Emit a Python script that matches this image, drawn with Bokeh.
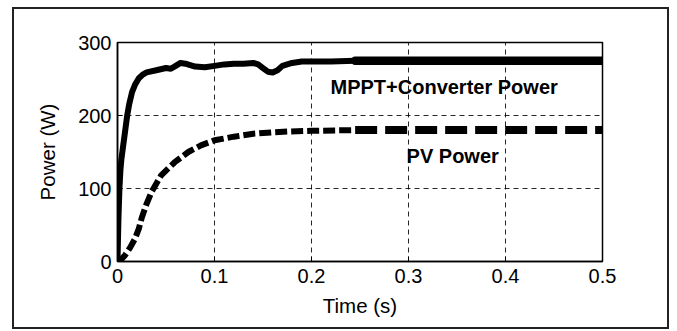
from bokeh.plotting import figure
from bokeh.models import FixedTicker, Range1d
from bokeh.layouts import column
from bokeh.core.properties import value
from bokeh.embed import file_html
from bokeh.resources import INLINE

# ---- data ----
mppt_t_early = [0, 0.001, 0.002, 0.003, 0.004, 0.006, 0.008, 0.010, 0.012, 0.015, 0.018,
                0.022, 0.026, 0.030, 0.040, 0.050, 0.055, 0.060, 0.065, 0.070, 0.080,
                0.090, 0.100, 0.110, 0.120, 0.130, 0.140, 0.145, 0.150, 0.155, 0.160,
                0.165, 0.170, 0.180, 0.190, 0.200, 0.220, 0.245]
mppt_p_early = [0, 60, 100, 125, 140, 160, 180, 200, 215, 232, 242,
                251, 256, 259, 262, 265, 264, 268, 272, 271, 267,
                266, 268, 270, 271, 271, 272, 270, 265, 260, 259,
                262, 268, 272, 274, 274, 274, 275]
mppt_t_late = [0.245, 0.300, 0.400, 0.500]
mppt_p_late = [275, 275, 275, 275]

pv_t_early = [0, 0.004, 0.008, 0.013, 0.018, 0.022, 0.025, 0.030, 0.035, 0.045, 0.059,
              0.073, 0.086, 0.100, 0.120, 0.140, 0.160, 0.175, 0.200, 0.245]
pv_p_early = [0, 3, 9, 19, 31, 45, 60, 79, 95, 118, 136,
              150, 159, 166, 171, 175, 177, 178, 179, 180]
pv_t_late = [0.245, 0.500]
pv_p_late = [180, 180]

x_ticks = [0, 0.1, 0.2, 0.3, 0.4, 0.5]
x_tick_labels = ["0", "0.1", "0.2", "0.3", "0.4", "0.5"]
y_ticks = [0, 100, 200, 300]
y_tick_labels = ["0", "100", "200", "300"]

labels_text = ["MPPT+Converter Power", "PV Power"]
labels_x = [0.2196, 0.298]
labels_y = [239, 145]

FONT = "Liberation Sans"

p = figure(width=653, height=318, output_backend="svg", toolbar_location=None,
           x_range=Range1d(0, 0.5), y_range=Range1d(0, 300),
           min_border_left=103, min_border_right=65,
           min_border_top=33, min_border_bottom=66)

p.background_fill_color = "white"
p.border_fill_color = "white"
p.outline_line_color = "black"
p.outline_line_width = 1.5

for ax in (p.xaxis[0], p.yaxis[0]):
    ax.axis_line_color = "black"
    ax.axis_line_width = 1.5
    ax.major_tick_in = 5
    ax.major_tick_out = 0
    ax.minor_tick_line_color = None
    ax.major_tick_line_color = "black"
    ax.major_label_text_font = FONT
    ax.major_label_text_font_size = "20px"
    ax.major_label_text_color = "black"
    ax.axis_label_text_font = FONT
    ax.axis_label_text_font_size = "20.5px"
    ax.axis_label_text_font_style = "normal"
    ax.axis_label_text_color = "black"

p.xaxis.ticker = FixedTicker(ticks=x_ticks)
p.xaxis.major_label_overrides = dict(zip(x_ticks, x_tick_labels))
p.yaxis.ticker = FixedTicker(ticks=y_ticks)
p.yaxis.major_label_overrides = dict(zip(y_ticks, y_tick_labels))
p.xaxis.major_label_standoff = 7
p.yaxis.major_label_standoff = 6
p.xaxis.axis_label = "Time (s)"
p.yaxis.axis_label = "Power (W)"
p.xaxis.axis_label_standoff = 8
p.yaxis.axis_label_standoff = 16

p.xgrid.ticker = FixedTicker(ticks=[0.1, 0.2, 0.3, 0.4])
p.ygrid.ticker = FixedTicker(ticks=[100, 200])
for g in (p.xgrid[0], p.ygrid[0]):
    g.grid_line_color = "black"
    g.grid_line_dash = "5 4"
    g.grid_line_width = 1
    g.grid_line_alpha = 0.85

# MPPT + converter power (solid, thick)
p.line(mppt_t_early, mppt_p_early, line_color="black", line_width=6,
       line_join="round", line_cap="round")
p.line(mppt_t_late, mppt_p_late, line_color="black", line_width=8.5,
       line_join="round", line_cap="round")

# PV power (dashed)
p.line(pv_t_early, pv_p_early, line_color="black", line_width=6,
       line_dash="12 4", line_join="round")
p.line(pv_t_late, pv_p_late, line_color="black", line_width=8,
       line_dash="22 8")

p.text(x=labels_x, y=labels_y, text=labels_text, text_font=value(FONT),
       text_font_size="20px", text_font_style="bold", text_color="black",
       text_baseline="alphabetic", text_align="left")

layout = column(p, width=657, height=322, margin=(7, 8, 2, 12),
                styles={"border": "2px solid #222222", "box-sizing": "border-box",
                        "background-color": "white"})

open("out.html", "w").write(file_html(layout, INLINE))
